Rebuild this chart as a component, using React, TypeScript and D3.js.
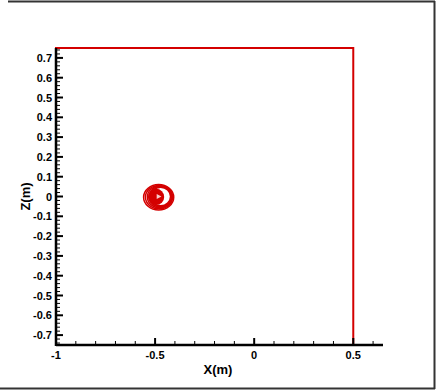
import React from "react";
import * as d3 from "d3";

// Axis ranges (metres)
const xDomain: [number, number] = [-1, 0.65];
const zDomain: [number, number] = [-0.75, 0.75];

// Major tick values and their labels
const xMajorTicks = [-1, -0.5, 0, 0.5];
const xTickLabels = ["-1", "-0.5", "0", "0.5"];
const zMajorTicks = [-0.7, -0.6, -0.5, -0.4, -0.3, -0.2, -0.1, 0, 0.1, 0.2, 0.3, 0.4, 0.5, 0.6, 0.7];
const zTickLabels = ["-0.7", "-0.6", "-0.5", "-0.4", "-0.3", "-0.2", "-0.1", "0", "0.1", "0.2", "0.3", "0.4", "0.5", "0.6", "0.7"];

// Domain boundary (x0, z0, x1, z1)
const boundary = [-1, -0.75, 0.5, 0.75];

// Vortex rings: centre x, centre z, radius x, radius z
const ringCx = [-0.482, -0.480, -0.477, -0.474, -0.472];
const ringCz = [-0.004, -0.003, -0.002, -0.001, 0.0];
const ringRx = [0.076, 0.069, 0.062, 0.056, 0.050];
const ringRz = [0.064, 0.059, 0.055, 0.051, 0.047];

// Vortex core
const coreCx = -0.495;
const coreCz = -0.002;
const coreR = 0.041;

const W = 438;
const H = 390;
const RED = "#d40000";

export default function App() {
  const x = d3.scaleLinear().domain(xDomain).range([56, 383]);
  const z = d3.scaleLinear().domain(zDomain).range([345, 48]);

  const xMinor = d3.range(-10, 7).map((i) => i / 10).filter((v) => !xMajorTicks.some((m) => Math.abs(m - v) < 1e-9));
  const zMinor = d3.range(-37, 38).map((i) => i / 50).filter((v) => !zMajorTicks.some((m) => Math.abs(m - v) < 1e-9));

  const font = "'Liberation Sans', Arial, sans-serif";

  return (
    <svg
      width={W}
      height={H}
      style={{ position: "absolute", left: 0, top: 0, display: "block", background: "#fff" }}
    >
      {/* outer frame */}
      <line x1={8} y1={1.5} x2={435} y2={1.5} stroke="#333" strokeWidth={2} />
      <line x1={434.5} y1={1} x2={434.5} y2={389} stroke="#333" strokeWidth={2} />
      <line x1={0} y1={388.5} x2={435} y2={388.5} stroke="#333" strokeWidth={2} />

      {/* domain boundary */}
      <rect
        x={x(boundary[0])}
        y={z(boundary[3])}
        width={x(boundary[2]) - x(boundary[0])}
        height={z(boundary[1]) - z(boundary[3])}
        fill="none"
        stroke={RED}
        strokeWidth={2}
      />

      {/* vortex */}
      {ringCx.map((cx, i) => (
        <ellipse
          key={i}
          cx={x(cx)}
          cy={z(ringCz[i])}
          rx={x(cx + ringRx[i]) - x(cx)}
          ry={z(ringCz[i]) - z(ringCz[i] + ringRz[i])}
          fill="none"
          stroke={RED}
          strokeWidth={1.5}
        />
      ))}
      <circle
        cx={x(coreCx)}
        cy={z(coreCz)}
        r={x(coreCx + coreR) - x(coreCx)}
        fill={RED}
      />
      <path
        d={`M${x(-0.492)},${z(0.012)} L${x(-0.468)},${z(0.0)} L${x(-0.492)},${z(-0.012)} Z`}
        fill="#fff"
        opacity={0.8}
      />

      {/* axes */}
      <line x1={x(xDomain[0])} y1={z(zDomain[0])} x2={x(xDomain[1])} y2={z(zDomain[0])} stroke="#000" strokeWidth={2.5} />
      <line x1={x(xDomain[0])} y1={z(zDomain[0]) + 1} x2={x(xDomain[0])} y2={z(zDomain[1])} stroke="#000" strokeWidth={2.5} />

      {/* x ticks */}
      {xMinor.map((v) => (
        <line key={"xm" + v} x1={x(v)} x2={x(v)} y1={z(zDomain[0])} y2={z(zDomain[0]) - 4} stroke="#000" strokeWidth={1} />
      ))}
      {xMajorTicks.map((v, i) => (
        <g key={"xM" + v}>
          <line x1={x(v)} x2={x(v)} y1={z(zDomain[0])} y2={z(zDomain[0]) - 7} stroke="#000" strokeWidth={2} />
          <text x={x(v)} y={359} textAnchor="middle" fontFamily={font} fontWeight="bold" fontSize={11}>
            {xTickLabels[i]}
          </text>
        </g>
      ))}

      {/* z ticks */}
      {zMinor.map((v) => (
        <line key={"zm" + v} x1={x(xDomain[0])} x2={x(xDomain[0]) + 4} y1={z(v)} y2={z(v)} stroke="#000" strokeWidth={1} />
      ))}
      {zMajorTicks.map((v, i) => (
        <g key={"zM" + v}>
          <line x1={x(xDomain[0])} x2={x(xDomain[0]) + 7} y1={z(v)} y2={z(v)} stroke="#000" strokeWidth={2} />
          <text x={52} y={z(v) + 4} textAnchor="end" fontFamily={font} fontWeight="bold" fontSize={11}>
            {zTickLabels[i]}
          </text>
        </g>
      ))}

      {/* axis titles */}
      <text x={218} y={374} textAnchor="middle" fontFamily={font} fontWeight="bold" fontSize={13}>
        X(m)
      </text>
      <text
        transform={`translate(30,${z(0)}) rotate(-90)`}
        textAnchor="middle"
        fontFamily={font}
        fontWeight="bold"
        fontSize={13}
      >
        Z(m)
      </text>
    </svg>
  );
}
